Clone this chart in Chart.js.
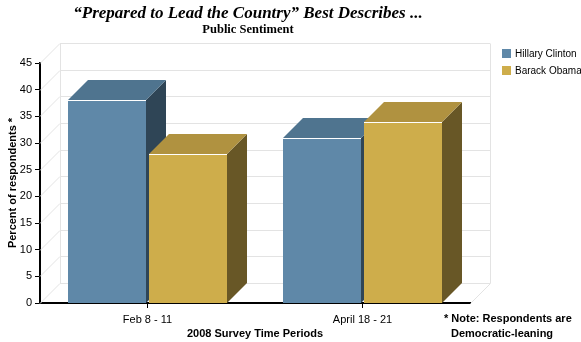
<!DOCTYPE html>
<html lang="en">
<head>
<meta charset="UTF-8">
<title>Prepared to Lead the Country</title>
<script src="https://cdn.jsdelivr.net/npm/chart.js"></script>
<style>
  html, body { margin: 0; padding: 0; background: #fff; }
</style>
</head>
<body>
<canvas id="chart" width="581" height="342"></canvas>
<script>
// data
const categories = ['Feb 8 - 11', 'April 18 - 21'];
const seriesNames = ['Hillary Clinton', 'Barack Obama'];
const hillary = [38, 31];
const obama = [28, 34];
const yMax = 45;
const yStep = 5;

// front / top / side shades for each series
const faces = [
    { front: '#5f88a8', top: '#4f748f', side: '#2f4556' },
    { front: '#cead4b', top: '#b09240', side: '#685726' }
];
const depth = 20;

// back wall, grid and 3d bars
const bars3d = {
    id: 'bars3d',
    beforeDatasetsDraw(chart) {
        const { ctx, chartArea: a, scales: { y } } = chart;
        ctx.save();
        ctx.lineWidth = 1;
        ctx.strokeStyle = '#e3e3e3';
        y.ticks.forEach(t => {
            const py = Math.round(y.getPixelForValue(t.value)) + 0.5;
            ctx.beginPath();
            ctx.moveTo(a.left, py);
            ctx.lineTo(a.left + depth, py - depth);
            ctx.lineTo(a.right + depth, py - depth);
            ctx.stroke();
        });
        const top = Math.round(y.getPixelForValue(yMax)) + 0.5 - depth;
        const bot = Math.round(y.getPixelForValue(0)) + 0.5 - depth;
        ctx.beginPath();
        ctx.moveTo(a.left + depth + 0.5, top);
        ctx.lineTo(a.left + depth + 0.5, bot);
        ctx.moveTo(a.right + depth + 0.5, top);
        ctx.lineTo(a.right + depth + 0.5, bot);
        ctx.lineTo(a.right + 0.5, bot + depth);
        ctx.stroke();

        // bars, left to right so nearer faces cover the ones behind
        categories.forEach((c, i) => {
            chart.data.datasets.forEach((ds, di) => {
                const b = chart.getDatasetMeta(di).data[i];
                const f = faces[di];
                const l = Math.round(b.x - b.width / 2);
                const r = Math.round(b.x + b.width / 2);
                const t = Math.round(b.y);
                const base = Math.round(b.base);
                ctx.fillStyle = f.side;
                ctx.beginPath();
                ctx.moveTo(r, t);
                ctx.lineTo(r + depth, t - depth);
                ctx.lineTo(r + depth, base - depth);
                ctx.lineTo(r, base);
                ctx.closePath();
                ctx.fill();
                ctx.fillStyle = f.top;
                ctx.beginPath();
                ctx.moveTo(l, t);
                ctx.lineTo(l + depth, t - depth);
                ctx.lineTo(r + depth, t - depth);
                ctx.lineTo(r, t);
                ctx.closePath();
                ctx.fill();
                ctx.fillStyle = f.front;
                ctx.fillRect(l, t, r - l, base - t);
                ctx.fillStyle = '#ffffff';
                ctx.fillRect(l, t, r - l, 1);
            });
        });
        ctx.restore();
        return false;
    },
    afterDraw(chart) {
        const { ctx, chartArea: a } = chart;
        ctx.save();
        ctx.fillStyle = '#000';
        ctx.textAlign = 'center';
        ctx.textBaseline = 'middle';
        const cx = (a.left + a.right) / 2 - 7;
        ctx.font = 'italic bold 17px "Liberation Serif"';
        ctx.fillText('\u201cPrepared to Lead the Country\u201d Best Describes ...', cx, 14);
        ctx.font = 'bold 12.5px "Liberation Serif"';
        ctx.fillText('Public Sentiment', cx, 30);

        // legend
        ctx.textAlign = 'left';
        ctx.font = '10px "Liberation Sans"';
        seriesNames.forEach((n, i) => {
            const ly = 53 + i * 17;
            ctx.fillStyle = faces[i].front;
            ctx.fillRect(502, ly - 4, 9, 9);
            ctx.fillStyle = '#000';
            ctx.fillText(n, 515, ly + 1);
        });

        // footnote
        ctx.font = 'bold 11px "Liberation Sans"';
        ctx.fillText('* Note: Respondents are', 444, 319);
        ctx.fillText('Democratic-leaning', 451, 334);
        ctx.restore();
    }
};

const tickFont = { family: 'Liberation Sans', size: 11 };
const titleFont = { family: 'Liberation Sans', size: 11, weight: 'bold' };

new Chart(document.getElementById('chart'), {
    type: 'bar',
    data: {
        labels: categories,
        datasets: [
            { label: seriesNames[0], data: hillary, backgroundColor: faces[0].front },
            { label: seriesNames[1], data: obama, backgroundColor: faces[1].front }
        ]
    },
    options: {
        responsive: false,
        animation: false,
        categoryPercentage: 0.753,
        barPercentage: 0.963,
        layout: { padding: { top: 63, right: 111, left: 0, bottom: 0 } },
        plugins: {
            legend: { display: false },
            title: { display: false },
            tooltip: { enabled: false }
        },
        scales: {
            x: {
                z: 1,
                afterFit: s => { s.height = 39; },
                grid: { offset: false, drawOnChartArea: false, tickLength: 5, color: '#000' },
                border: { color: '#000', width: 2 },
                ticks: { color: '#000', font: tickFont, padding: 5 },
                title: { display: true, text: '2008 Survey Time Periods', color: '#000', font: titleFont, padding: { top: 0, bottom: 1 } }
            },
            y: {
                min: 0,
                max: yMax,
                afterFit: s => { s.width = 40; },
                grid: { drawOnChartArea: false, tickLength: 5, color: '#000' },
                border: { color: '#000', width: 2 },
                ticks: { stepSize: yStep, color: '#000', font: tickFont, padding: 3 },
                title: { display: true, text: 'Percent of respondents *', color: '#000', font: titleFont, padding: { top: 6, bottom: 0 } }
            }
        }
    },
    plugins: [bars3d]
});
</script>
</body>
</html>
